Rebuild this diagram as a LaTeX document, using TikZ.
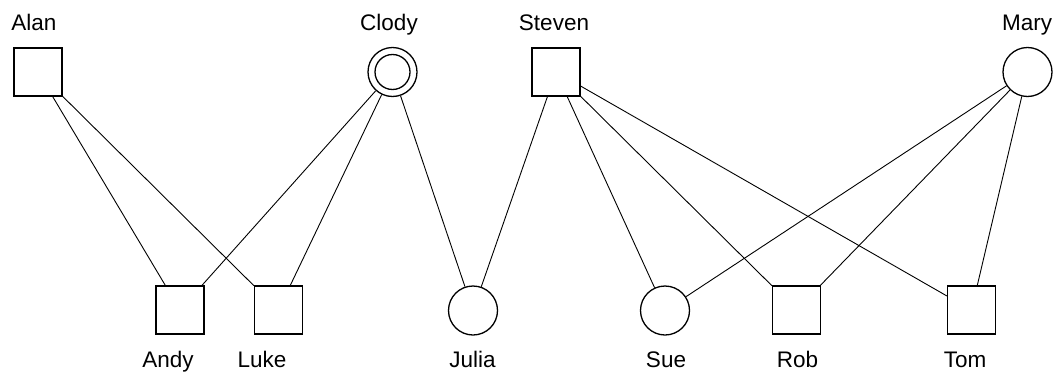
\documentclass[tikz,border=0pt]{standalone}
\usepackage{fontspec}
\setmainfont{Liberation Sans}
\begin{document}
\begin{tikzpicture}[x=1pt,y=-1pt,
  male/.style={draw,line width=1.3pt,minimum size=48pt,inner sep=0pt,shape=rectangle},
  female/.style={draw,line width=1.3pt,circle,minimum size=49pt,inner sep=0pt},
  lbl/.style={anchor=base,font=\fontsize{22.5}{22.5}\selectfont,inner sep=0pt},
  edge/.style={line width=0.9pt}]
\useasboundingbox (0,0) rectangle (1059,372);
\node[male] (alan) at (38,72) {};
\node[female] (clody) at (392.5,72) {};
\node[circle,draw,line width=1.3pt,minimum size=35pt,inner sep=0pt] (clodyin) at (392.5,72) {};
\node[male] (steven) at (556,72) {};
\node[female] (mary) at (1027.5,72) {};
\node[male] (andy) at (180,310) {};
\node[male] (luke) at (278.5,310) {};
\node[female] (julia) at (473,310.5) {};
\node[female] (sue) at (665,310.5) {};
\node[male] (rob) at (796.5,310) {};
\node[male] (tom) at (971.5,310) {};
\node[lbl] (lalan) at (34,30) {Alan};
\node[lbl] (lclody) at (389,30) {Clody};
\node[lbl] (lsteven) at (554,30) {Steven};
\node[lbl] (lmary) at (1027,30) {Mary};
\node[lbl] (landy) at (168,367) {Andy};
\node[lbl] (lluke) at (262,367) {Luke};
\node[lbl] (ljulia) at (472.5,367) {Julia};
\node[lbl] (lsue) at (666,367) {Sue};
\node[lbl] (lrob) at (797.5,367) {Rob};
\node[lbl] (ltom) at (965,367) {Tom};
\draw[edge] (alan) -- (andy);
\draw[edge] (alan) -- (luke);
\draw[edge] (clody) -- (andy);
\draw[edge] (clody) -- (luke);
\draw[edge] (clody) -- (julia);
\draw[edge] (steven) -- (julia);
\draw[edge] (steven) -- (sue);
\draw[edge] (steven) -- (rob);
\draw[edge] (steven) -- (tom);
\draw[edge] (mary) -- (sue);
\draw[edge] (mary) -- (rob);
\draw[edge] (mary) -- (tom);
\end{tikzpicture}
\end{document}
